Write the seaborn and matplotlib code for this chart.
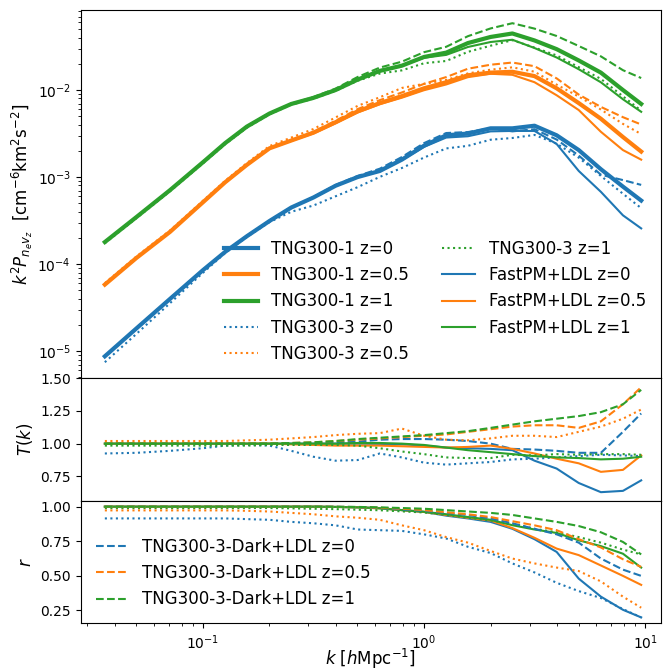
import numpy as np
import matplotlib
matplotlib.use("Agg")
import matplotlib.pyplot as plt
from matplotlib.ticker import FormatStrFormatter
import seaborn as sns

# wavenumbers [h/Mpc]
k = [0.036, 0.050, 0.071, 0.10, 0.126, 0.158, 0.20, 0.251, 0.316, 0.398, 0.501, 0.631,
     0.794, 1.0, 1.26, 1.58, 2.0, 2.51, 3.16, 3.98, 5.01, 6.31, 7.94, 9.6]
redshifts = ["0", "0.5", "1"]

# log10 of k^2 P_{ne vz}
tng1 = {
    "0": [-5.06, -4.74, -4.40, -4.07, -3.86, -3.68, -3.505, -3.35, -3.235, -3.10, -3.0, -2.93,
          -2.80, -2.64, -2.52, -2.50, -2.44, -2.44, -2.41, -2.52, -2.69, -2.91, -3.11, -3.27],
    "0.5": [-4.236, -3.93, -3.63, -3.29, -3.06, -2.86, -2.67, -2.58, -2.49, -2.37, -2.245, -2.15,
            -2.07, -1.98, -1.91, -1.83, -1.80, -1.79, -1.84, -1.98, -2.15, -2.33, -2.54, -2.707],
    "1": [-3.747, -3.46, -3.15, -2.83, -2.61, -2.42, -2.27, -2.16, -2.09, -2.00, -1.88, -1.78,
          -1.72, -1.62, -1.57, -1.46, -1.39, -1.35, -1.43, -1.53, -1.66, -1.80, -2.0, -2.16],
}
tng3 = {
    "0": [-5.128, -4.803, -4.449, -4.101, -3.873, -3.689, -3.518, -3.399, -3.327, -3.221, -3.116, -2.998,
          -2.896, -2.776, -2.671, -2.641, -2.571, -2.551, -2.516, -2.616, -2.777, -2.987, -3.192, -3.357],
    "0.5": [-4.219, -3.913, -3.613, -3.273, -3.043, -2.839, -2.644, -2.546, -2.448, -2.315, -2.182, -2.083,
            -1.976, -1.929, -1.884, -1.809, -1.766, -1.739, -1.789, -1.938, -2.075, -2.224, -2.389, -2.506],
    "1": [-3.76, -3.473, -3.163, -2.843, -2.623, -2.433, -2.279, -2.169, -2.099, -2.009, -1.893, -1.811,
          -1.774, -1.692, -1.666, -1.561, -1.491, -1.427, -1.512, -1.602, -1.737, -1.872, -2.072, -2.237],
}
fastpm = {
    "0": [-5.06, -4.74, -4.40, -4.07, -3.86, -3.68, -3.505, -3.35, -3.235, -3.10, -3.0, -2.932,
          -2.804, -2.653, -2.546, -2.531, -2.475, -2.47, -2.47, -2.62, -2.93, -3.17, -3.44, -3.59],
    "0.5": [-4.236, -3.93, -3.63, -3.29, -3.06, -2.86, -2.67, -2.584, -2.499, -2.383, -2.258, -2.163,
            -2.088, -2.002, -1.936, -1.852, -1.813, -1.825, -1.91, -2.06, -2.23, -2.48, -2.69, -2.80],
    "1": [-3.747, -3.46, -3.15, -2.83, -2.61, -2.42, -2.27, -2.16, -2.09, -2.00, -1.876, -1.776,
          -1.72, -1.629, -1.596, -1.505, -1.448, -1.422, -1.517, -1.626, -1.761, -1.911, -2.106, -2.25],
}
dark = {
    "0": [-5.06, -4.74, -4.40, -4.07, -3.86, -3.68, -3.505, -3.35, -3.231, -3.091, -2.987, -2.904,
          -2.77, -2.61, -2.494, -2.483, -2.44, -2.475, -2.45, -2.569, -2.753, -2.973, -3.035, -3.09],
    "0.5": [-4.236, -3.93, -3.63, -3.29, -3.06, -2.86, -2.67, -2.576, -2.481, -2.353, -2.219, -2.116,
            -2.028, -1.929, -1.851, -1.755, -1.709, -1.684, -1.726, -1.866, -2.052, -2.194, -2.312, -2.396],
    "1": [-3.747, -3.46, -3.15, -2.83, -2.61, -2.42, -2.27, -2.156, -2.081, -1.983, -1.85, -1.742,
          -1.674, -1.565, -1.503, -1.381, -1.292, -1.232, -1.294, -1.379, -1.494, -1.613, -1.772, -1.862],
}

# transfer function T(k)
T_tng3 = {
    "0": [0.925, 0.93, 0.945, 0.965, 0.985, 0.99, 0.985, 0.945, 0.90, 0.87, 0.875, 0.925,
          0.895, 0.855, 0.84, 0.85, 0.86, 0.88, 0.885, 0.895, 0.905, 0.915, 0.91, 0.905],
    "0.5": [1.02, 1.02, 1.02, 1.02, 1.02, 1.025, 1.03, 1.04, 1.05, 1.065, 1.075, 1.08,
            1.115, 1.06, 1.03, 1.025, 1.04, 1.06, 1.06, 1.05, 1.09, 1.13, 1.19, 1.26],
    "1": [0.985, 0.985, 0.985, 0.985, 0.985, 0.985, 0.99, 0.99, 0.99, 0.99, 0.985, 0.965,
          0.94, 0.92, 0.895, 0.89, 0.89, 0.915, 0.91, 0.92, 0.915, 0.92, 0.92, 0.915],
}
T_fastpm = {
    "0": [1.0, 1.0, 1.0, 1.0, 1.0, 1.0, 1.0, 1.0, 1.0, 1.0, 1.0, 0.998,
          0.995, 0.985, 0.97, 0.965, 0.96, 0.95, 0.87, 0.81, 0.70, 0.63, 0.64, 0.72],
    "0.5": [1.0, 1.0, 1.0, 1.0, 1.0, 1.0, 1.0, 0.995, 0.99, 0.985, 0.985, 0.985,
            0.98, 0.975, 0.97, 0.975, 0.985, 0.96, 0.925, 0.885, 0.85, 0.785, 0.80, 0.91],
    "1": [1.0, 1.0, 1.0, 1.0, 1.0, 1.0, 1.0, 1.0, 1.0, 1.0, 1.005, 1.005,
          1.0, 0.99, 0.97, 0.95, 0.935, 0.92, 0.905, 0.895, 0.89, 0.88, 0.885, 0.90],
}
T_dark = {
    "0": [1.0, 1.0, 1.0, 1.0, 1.0, 1.0, 1.0, 1.0, 1.005, 1.01, 1.015, 1.03,
          1.035, 1.035, 1.03, 1.02, 1.0, 0.96, 0.955, 0.945, 0.93, 0.93, 1.09, 1.23],
    "0.5": [1.0, 1.0, 1.0, 1.0, 1.0, 1.0, 1.0, 1.005, 1.01, 1.02, 1.03, 1.04,
            1.05, 1.06, 1.07, 1.09, 1.11, 1.13, 1.14, 1.14, 1.12, 1.17, 1.30, 1.43],
    "1": [1.0, 1.0, 1.0, 1.0, 1.0, 1.0, 1.0, 1.005, 1.01, 1.02, 1.035, 1.045,
          1.055, 1.065, 1.08, 1.095, 1.12, 1.145, 1.17, 1.19, 1.21, 1.24, 1.30, 1.41],
}

# cross-correlation coefficient r(k)
r_tng3 = {
    "0": [0.915, 0.915, 0.915, 0.915, 0.915, 0.91, 0.905, 0.89, 0.88, 0.865, 0.835, 0.83,
          0.825, 0.80, 0.77, 0.71, 0.665, 0.59, 0.525, 0.45, 0.39, 0.34, 0.26, 0.20],
    "0.5": [0.973, 0.973, 0.973, 0.973, 0.973, 0.97, 0.965, 0.955, 0.945, 0.93, 0.92, 0.905,
            0.865, 0.83, 0.78, 0.74, 0.68, 0.625, 0.59, 0.56, 0.535, 0.46, 0.35, 0.27],
    "1": [0.99, 0.99, 0.99, 0.99, 0.99, 0.99, 0.99, 0.988, 0.985, 0.982, 0.978, 0.974,
          0.966, 0.958, 0.94, 0.92, 0.90, 0.878, 0.84, 0.815, 0.78, 0.74, 0.69, 0.655],
}
r_fastpm = {
    "0": [1.0, 1.0, 1.0, 1.0, 1.0, 1.0, 1.0, 1.0, 1.0, 0.998, 0.995, 0.99,
          0.975, 0.962, 0.935, 0.915, 0.89, 0.84, 0.765, 0.673, 0.48, 0.35, 0.255, 0.20],
    "0.5": [1.0, 1.0, 1.0, 1.0, 1.0, 1.0, 1.0, 1.0, 1.0, 0.998, 0.995, 0.988,
            0.975, 0.962, 0.94, 0.92, 0.90, 0.845, 0.775, 0.697, 0.65, 0.575, 0.50, 0.435],
    "1": [1.0, 1.0, 1.0, 1.0, 1.0, 1.0, 1.0, 1.0, 1.0, 0.998, 0.995, 0.988,
          0.975, 0.963, 0.945, 0.925, 0.905, 0.866, 0.835, 0.81, 0.757, 0.715, 0.66, 0.56],
}
r_dark = {
    "0": [1.0, 1.0, 1.0, 1.0, 1.0, 1.0, 1.0, 1.0, 1.0, 0.999, 0.997, 0.99,
          0.98, 0.97, 0.955, 0.94, 0.915, 0.88, 0.84, 0.80, 0.74, 0.625, 0.545, 0.50],
    "0.5": [1.0, 1.0, 1.0, 1.0, 1.0, 1.0, 1.0, 1.0, 1.0, 0.999, 0.997, 0.992,
            0.985, 0.975, 0.96, 0.945, 0.925, 0.895, 0.865, 0.83, 0.765, 0.705, 0.62, 0.565],
    "1": [1.0, 1.0, 1.0, 1.0, 1.0, 1.0, 1.0, 1.0, 1.0, 0.999, 0.998, 0.995,
          0.99, 0.985, 0.975, 0.965, 0.955, 0.94, 0.915, 0.89, 0.86, 0.815, 0.745, 0.655],
}

colors = {"0": "#1f77b4", "0.5": "#ff7f0e", "1": "#2ca02c"}

fig, axes = plt.subplots(3, 1, figsize=(6.67, 6.71), dpi=100, sharex=True,
                         gridspec_kw={"height_ratios": [3, 1, 1], "hspace": 0})
fig.subplots_adjust(left=0.121, right=0.991, top=0.985, bottom=0.071)
ax0, ax1, ax2 = axes

# Top panel: power spectra
for z in redshifts:
    sns.lineplot(x=k, y=10 ** np.array(tng1[z]), ax=ax0, color=colors[z], lw=3,
                 label=f"TNG300-1 z={z}")
for z in redshifts:
    sns.lineplot(x=k, y=10 ** np.array(tng3[z]), ax=ax0, color=colors[z], lw=1.5,
                 linestyle=":", label=f"TNG300-3 z={z}")
for z in redshifts:
    sns.lineplot(x=k, y=10 ** np.array(fastpm[z]), ax=ax0, color=colors[z], lw=1.5,
                 label=f"FastPM+LDL z={z}")
for z in redshifts:
    sns.lineplot(x=k, y=10 ** np.array(dark[z]), ax=ax0, color=colors[z], lw=1.5,
                 linestyle="--")

ax0.set_xscale("log")
ax0.set_yscale("log")
ax0.set_xlim(0.028, 11.8)
ax0.set_ylim(4.9e-6, 0.083)
ax0.set_ylabel(r"$k^2P_{n_e v_z}$  [cm$^{-6}$km$^2$s$^{-2}$]", fontsize=12, labelpad=2)
ax0.legend(loc="lower right", ncol=2, frameon=False, fontsize=12)

# Middle panel: transfer function
for z in redshifts:
    sns.lineplot(x=k, y=T_tng3[z], ax=ax1, color=colors[z], lw=1.5, linestyle=":")
    sns.lineplot(x=k, y=T_fastpm[z], ax=ax1, color=colors[z], lw=1.5)
    sns.lineplot(x=k, y=T_dark[z], ax=ax1, color=colors[z], lw=1.5, linestyle="--")
ax1.set_ylim(0.565, 1.5)
ax1.set_yticks([0.75, 1.0, 1.25, 1.5])
ax1.yaxis.set_major_formatter(FormatStrFormatter("%.2f"))
ax1.set_ylabel(r"$T(k)$", fontsize=12, labelpad=2)

# Bottom panel: correlation coefficient
for z in redshifts:
    sns.lineplot(x=k, y=r_tng3[z], ax=ax2, color=colors[z], lw=1.5, linestyle=":")
    sns.lineplot(x=k, y=r_fastpm[z], ax=ax2, color=colors[z], lw=1.5)
for z in redshifts:
    sns.lineplot(x=k, y=r_dark[z], ax=ax2, color=colors[z], lw=1.5, linestyle="--",
                 label=f"TNG300-3-Dark+LDL z={z}")
ax2.set_ylim(0.157, 1.043)
ax2.set_yticks([0.25, 0.5, 0.75, 1.0])
ax2.yaxis.set_major_formatter(FormatStrFormatter("%.2f"))
ax2.set_ylabel(r"$r$", fontsize=12, labelpad=2)
ax2.set_xlabel(r"$k$ [$h$Mpc$^{-1}$]", fontsize=12)
ax2.xaxis.set_label_coords(0.5, -0.19)
ax2.legend(loc="lower left", frameon=False, fontsize=12)

fig.align_ylabels(axes)
fig.savefig("out.png", dpi=100)
